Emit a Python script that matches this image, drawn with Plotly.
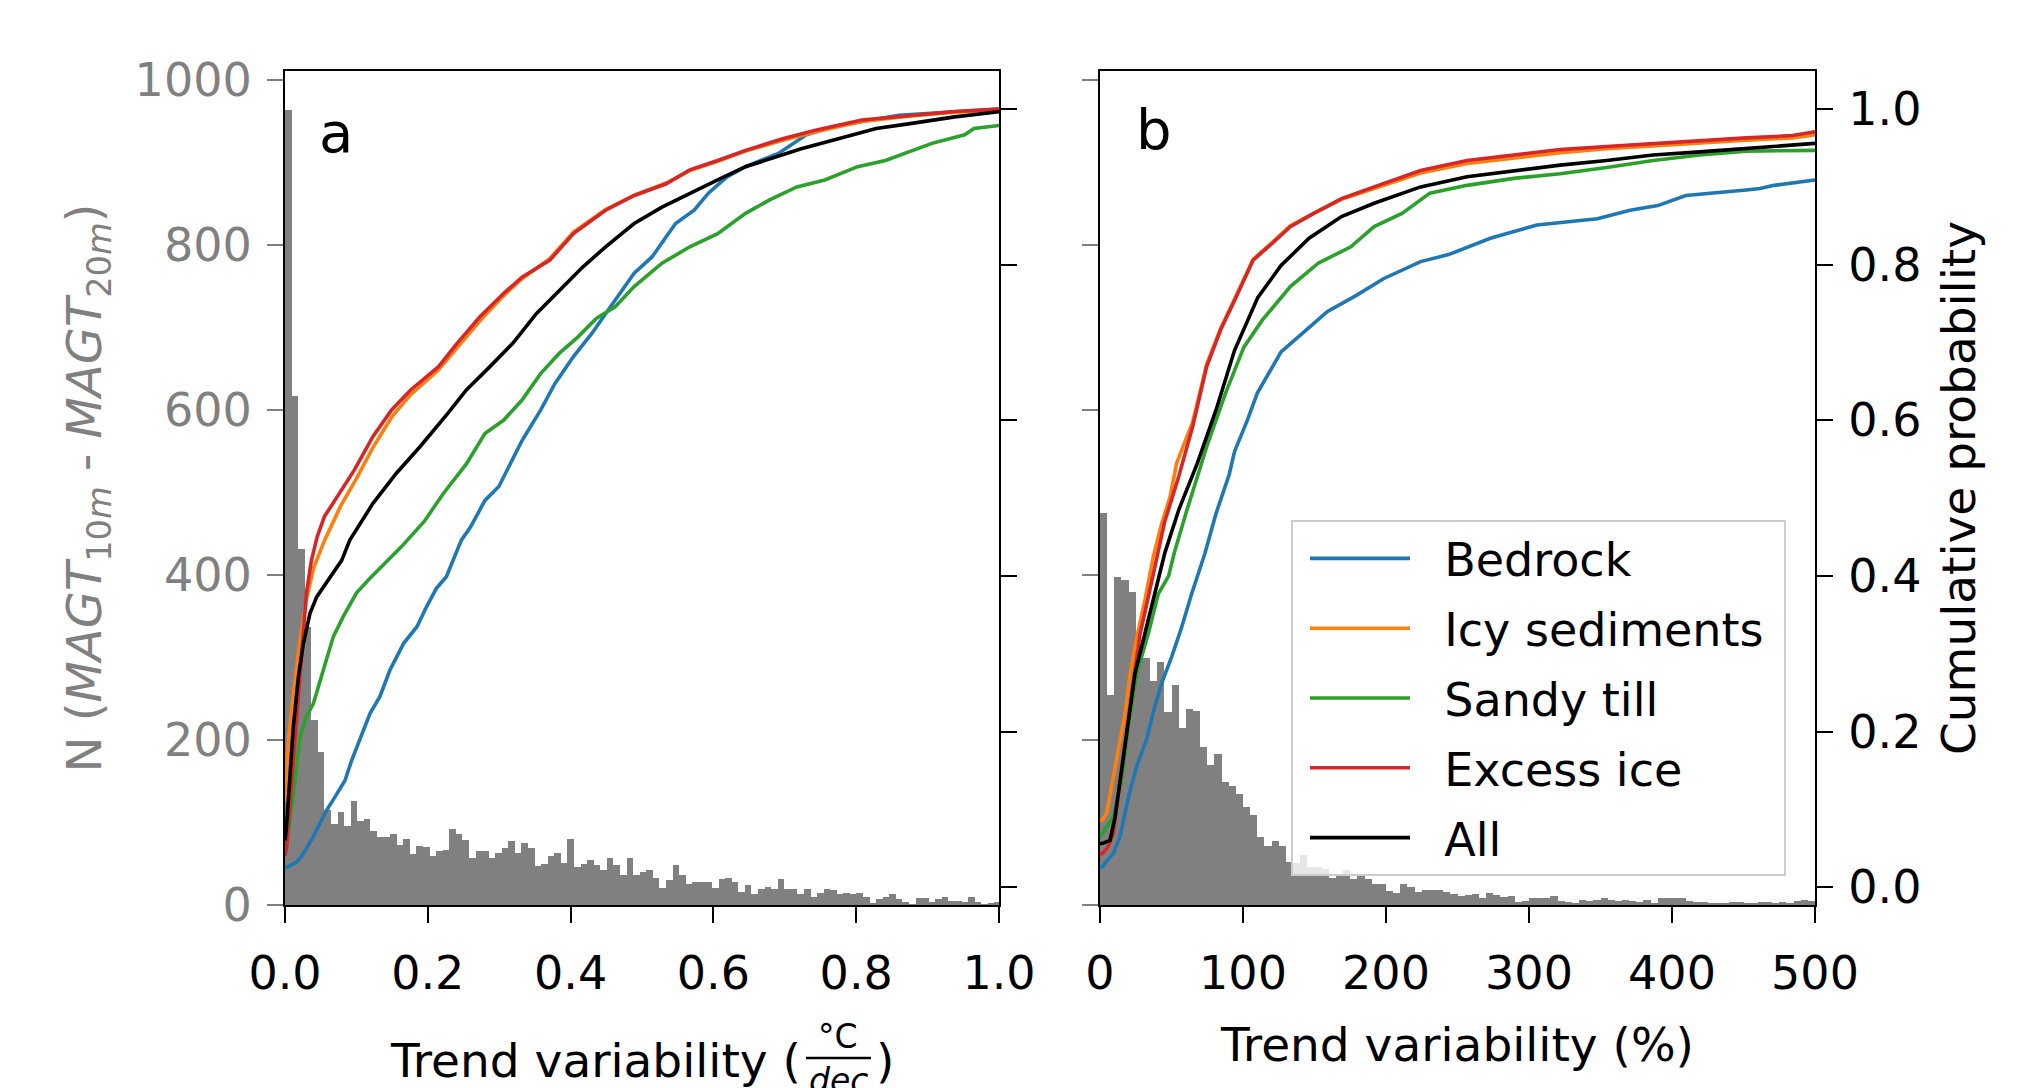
import numpy as np
import plotly.graph_objects as go

# ---------------- data ----------------
# Panel a histogram (counts per bin, bin width in degC/dec)
HIST_A_BIN_WIDTH = 0.0092
hist_a_counts = [964, 617, 432, 337, 224, 185, 115, 98, 113, 96, 126, 102, 104, 90, 82, 82, 86, 73,
                 80, 62, 71, 70, 59, 65, 67, 92, 86, 79, 57, 65, 66, 57, 63, 69, 78, 63, 75, 69, 47,
                 50, 60, 63, 51, 80, 46, 50, 55, 48, 42, 57, 48, 36, 57, 36, 40, 43, 33, 21, 30, 48,
                 36, 25, 28, 28, 28, 21, 32, 33, 28, 16, 24, 13, 20, 22, 19, 31, 19, 19, 13, 20, 10,
                 14, 19, 18, 13, 15, 13, 14, 10, 3, 7, 10, 13, 7, 4, 1, 8, 8, 4, 7, 10, 5, 5, 4, 10,
                 4, 1, 3, 4]

# Panel b histogram (counts per bin, bin width in %)
HIST_B_BIN_WIDTH = 5
hist_b_counts = [475, 254, 398, 394, 380, 305, 299, 272, 295, 234, 267, 214, 237, 235, 191, 170,
                 183, 149, 144, 134, 119, 109, 83, 71, 77, 71, 52, 51, 61, 46, 46, 44, 33, 38, 42,
                 31, 37, 31, 26, 26, 17, 14, 26, 22, 16, 18, 18, 18, 16, 13, 11, 12, 13, 9, 15, 12,
                 10, 11, 4, 5, 9, 9, 9, 11, 5, 4, 3, 6, 5, 6, 9, 6, 5, 6, 5, 4, 6, 3, 9, 9, 8, 8, 5,
                 4, 4, 3, 2, 3, 4, 4, 3, 2, 4, 4, 3, 4, 2, 5, 6, 5]

series_names = ["Bedrock", "Icy sediments", "Sandy till", "Excess ice", "All"]
series_colors = ["#1f77b4", "#ff7f0e", "#2ca02c", "#d62728", "#000000"]

# Panel a cumulative curves (x: trend variability degC/dec, y: cumulative probability)
a_bedrock_x = [0, 0.0014, 0.0163, 0.0257, 0.0327, 0.0397, 0.049, 0.0584, 0.070, 0.084, 0.0934, 0.103,
               0.119, 0.133, 0.147, 0.166, 0.185, 0.198, 0.212, 0.226, 0.247, 0.260, 0.280, 0.2995,
               0.319, 0.332, 0.358, 0.378, 0.404, 0.430, 0.449, 0.475, 0.489, 0.514, 0.547, 0.573,
               0.593, 0.619, 0.645, 0.691, 0.73, 0.775, 0.86, 0.938, 1.0]
a_bedrock_y = [0.025, 0.025, 0.032, 0.043, 0.054, 0.065, 0.082, 0.099, 0.116, 0.137, 0.163, 0.185,
               0.223, 0.245, 0.279, 0.313, 0.335, 0.360, 0.384, 0.399, 0.446, 0.463, 0.497, 0.515,
               0.549, 0.574, 0.613, 0.647, 0.682, 0.712, 0.737, 0.772, 0.789, 0.810, 0.853, 0.870,
               0.892, 0.913, 0.926, 0.943, 0.967, 0.979, 0.992, 0.9966, 1.0]

a_icy_x = [0, 0.005, 0.012, 0.02, 0.03, 0.04, 0.055, 0.078, 0.1, 0.123, 0.15, 0.176, 0.215, 0.241,
           0.273, 0.306, 0.332, 0.371, 0.404, 0.449, 0.489, 0.534, 0.567, 0.606, 0.645, 0.697, 0.743,
           0.808, 0.873, 0.938, 1.0]
a_icy_y = [0.11, 0.19, 0.25, 0.31, 0.37, 0.41, 0.445, 0.49, 0.525, 0.565, 0.605, 0.633, 0.665, 0.694,
           0.728, 0.76, 0.782, 0.808, 0.842, 0.871, 0.889, 0.905, 0.921, 0.933, 0.946, 0.960, 0.971,
           0.984, 0.991, 0.996, 0.999]

a_sandy_x = [0, 0.0033, 0.0117, 0.021, 0.030, 0.0397, 0.0537, 0.0677, 0.0817, 0.100, 0.117, 0.1625,
             0.195, 0.221, 0.254, 0.280, 0.306, 0.332, 0.358, 0.384, 0.410, 0.436, 0.4624, 0.489,
             0.528, 0.567, 0.606, 0.645, 0.678, 0.717, 0.756, 0.802, 0.841, 0.880, 0.906, 0.952,
             0.965, 1.0]
a_sandy_y = [0.045, 0.06, 0.12, 0.193, 0.219, 0.236, 0.279, 0.322, 0.348, 0.378, 0.395, 0.437, 0.47,
             0.505, 0.544, 0.583, 0.600, 0.626, 0.660, 0.686, 0.707, 0.731, 0.746, 0.772, 0.802,
             0.823, 0.840, 0.866, 0.883, 0.900, 0.909, 0.926, 0.934, 0.947, 0.956, 0.967, 0.975,
             0.979]

a_excess_x = [0, 0.0023, 0.0117, 0.021, 0.030, 0.037, 0.045, 0.055, 0.078, 0.097, 0.123, 0.149, 0.176,
              0.215, 0.241, 0.273, 0.306, 0.332, 0.371, 0.404, 0.449, 0.489, 0.534, 0.567, 0.606,
              0.645, 0.697, 0.743, 0.808, 0.873, 0.938, 1.0]
a_excess_y = [0.04, 0.052, 0.163, 0.279, 0.378, 0.42, 0.45, 0.476, 0.51, 0.536, 0.579, 0.613, 0.639,
              0.669, 0.699, 0.733, 0.763, 0.784, 0.806, 0.840, 0.870, 0.889, 0.904, 0.922, 0.934,
              0.947, 0.962, 0.973, 0.986, 0.992, 0.997, 1.0]

a_all_x = [0, 0.0023, 0.0117, 0.0187, 0.0257, 0.035, 0.0444, 0.0537, 0.0677, 0.0794, 0.0908, 0.123,
           0.156, 0.189, 0.228, 0.254, 0.287, 0.319, 0.352, 0.384, 0.417, 0.449, 0.489, 0.528, 0.567,
           0.606, 0.645, 0.684, 0.723, 0.775, 0.828, 0.873, 0.938, 1.0]
a_all_y = [0.06, 0.08, 0.206, 0.270, 0.313, 0.352, 0.373, 0.386, 0.405, 0.42, 0.446, 0.493, 0.532,
           0.566, 0.609, 0.639, 0.669, 0.699, 0.737, 0.767, 0.797, 0.823, 0.853, 0.874, 0.892, 0.909,
           0.926, 0.938, 0.949, 0.962, 0.975, 0.981, 0.990, 0.9966]

# Panel b cumulative curves (x: trend variability %, y: cumulative probability)
b_bedrock_x = [0, 1.6, 5.8, 9.3, 14, 19.8, 25.6, 32.6, 37.3, 43.1, 50.1, 57.1, 64.1, 73.4, 81.1, 90.3,
               94.1, 103, 110, 126.6, 142.9, 159.1, 178.7, 198.2, 224.2, 243.7, 273, 305.5, 347.8,
               370.6, 390.1, 409.6, 451.9, 461.6, 471.4, 500]
b_bedrock_y = [0.026, 0.026, 0.036, 0.043, 0.065, 0.115, 0.155, 0.19, 0.225, 0.262, 0.296, 0.334,
               0.377, 0.429, 0.48, 0.53, 0.56, 0.6, 0.635, 0.688, 0.714, 0.740, 0.760, 0.782, 0.804,
               0.813, 0.834, 0.851, 0.859, 0.870, 0.876, 0.889, 0.896, 0.898, 0.902, 0.909]

b_icy_x = [0, 1.6, 4.7, 8.2, 12.8, 17.5, 21, 25.7, 31.4, 37.3, 43.1, 48.9, 53.6, 64.8, 74.6, 84.3, 94.1,
           107.1, 120.1, 133.1, 149.4, 168.9, 191.7, 224.2, 256.7, 289.3, 321.8, 354.3, 386.8,
           419.4, 451.9, 484.4, 500]
b_icy_y = [0.086, 0.086, 0.095, 0.129, 0.175, 0.223, 0.274, 0.321, 0.369, 0.425, 0.467, 0.501, 0.545,
           0.598, 0.672, 0.718, 0.756, 0.807, 0.828, 0.850, 0.866, 0.884, 0.898, 0.918, 0.930,
           0.937, 0.944, 0.949, 0.953, 0.957, 0.960, 0.963, 0.967]

b_sandy_x = [0, 1.6, 9.3, 15.1, 19.8, 25.6, 33.8, 40.8, 48, 52, 60, 68.7, 74.6, 87.6, 100.6, 113.6,
             133.1, 152.6, 175.4, 191.7, 211.2, 230.7, 256.7, 289.3, 321.8, 354.3, 386.8, 419.4,
             451.9, 500]
b_sandy_y = [0.064, 0.069, 0.090, 0.137, 0.206, 0.274, 0.326, 0.377, 0.40, 0.43, 0.48, 0.53, 0.566,
             0.634, 0.694, 0.729, 0.772, 0.802, 0.823, 0.849, 0.866, 0.892, 0.902, 0.911, 0.917,
             0.925, 0.934, 0.941, 0.946, 0.947]

b_excess_x = [0, 1.6, 5.8, 9.3, 14, 18.6, 23.3, 28, 33.8, 40.8, 45.3, 55.1, 64.8, 74.6, 84.3, 94.1,
              107.1, 120.1, 133.1, 149.4, 168.9, 191.7, 224.2, 256.7, 289.3, 321.8, 354.3, 386.8,
              419.4, 451.9, 484.4, 500]
b_excess_y = [0.043, 0.043, 0.052, 0.069, 0.137, 0.197, 0.266, 0.325, 0.373, 0.435, 0.47, 0.528,
              0.592, 0.669, 0.716, 0.754, 0.806, 0.827, 0.849, 0.866, 0.885, 0.900, 0.921, 0.934,
              0.941, 0.948, 0.952, 0.956, 0.960, 0.963, 0.966, 0.971]

b_all_x = [0, 1.6, 7, 10.5, 15.1, 19.8, 24.4, 31.4, 38.4, 45.4, 55.1, 68.1, 81.1, 94.1, 110.4, 126.6,
           146.2, 168.9, 191.7, 224.2, 256.7, 289.3, 321.8, 354.3, 386.8, 419.4, 451.9, 500]
b_all_y = [0.056, 0.056, 0.060, 0.090, 0.150, 0.214, 0.274, 0.326, 0.377, 0.43, 0.485, 0.545, 0.613,
           0.69, 0.758, 0.799, 0.834, 0.862, 0.879, 0.900, 0.913, 0.921, 0.928, 0.934, 0.941,
           0.945, 0.949, 0.956]

x_a_ticks = [0.0, 0.2, 0.4, 0.6, 0.8, 1.0]
x_a_ticklabels = ["0.0", "0.2", "0.4", "0.6", "0.8", "1.0"]
x_b_ticks = [0, 100, 200, 300, 400, 500]
count_ticks = [0, 200, 400, 600, 800, 1000]
prob_ticks = [0.0, 0.2, 0.4, 0.6, 0.8, 1.0]
prob_ticklabels = ["0.0", "0.2", "0.4", "0.6", "0.8", "1.0"]

curves_a = [(a_bedrock_x, a_bedrock_y), (a_icy_x, a_icy_y), (a_sandy_x, a_sandy_y),
            (a_excess_x, a_excess_y), (a_all_x, a_all_y)]
curves_b = [(b_bedrock_x, b_bedrock_y), (b_icy_x, b_icy_y), (b_sandy_x, b_sandy_y),
            (b_excess_x, b_excess_y), (b_all_x, b_all_y)]

# ---------------- figure ----------------
WIN_W, WIN_H = 2029, 1088
OFF = 8  # default page body margin
W, H = WIN_W - OFF, WIN_H - OFF
# plot area in window pixels: x 285..1815, y 71..905
ML, MR, MT, MB = 285 - OFF, WIN_W - 1815, 71 - OFF, WIN_H - 905
PW, PH = W - ML - MR, H - MT - MB
FONT = "DejaVu Sans"
FS = 46
TFS = 47
GRAY = "#808080"


def px_x(p):
    return (p - OFF - ML) / PW


def px_y(p):
    return (H - MB - (p - OFF)) / PH


fig = go.Figure()

ca = np.asarray(hist_a_counts)
fig.add_trace(go.Bar(x=(np.arange(len(ca)) + 0.5) * HIST_A_BIN_WIDTH, y=ca, width=HIST_A_BIN_WIDTH,
                     marker=dict(color=GRAY, line=dict(width=0)), xaxis="x", yaxis="y",
                     showlegend=False, hoverinfo="skip"))
cb = np.asarray(hist_b_counts)
fig.add_trace(go.Bar(x=(np.arange(len(cb)) + 0.5) * HIST_B_BIN_WIDTH, y=cb, width=HIST_B_BIN_WIDTH,
                     marker=dict(color=GRAY, line=dict(width=0)), xaxis="x2", yaxis="y3",
                     showlegend=False, hoverinfo="skip"))

for i, (name, col) in enumerate(zip(series_names, series_colors)):
    xa, ya = curves_a[i]
    fig.add_trace(go.Scatter(x=xa, y=ya, mode="lines", line=dict(color=col, width=3.6),
                             xaxis="x", yaxis="y2", showlegend=False, name=name))
for i, (name, col) in enumerate(zip(series_names, series_colors)):
    xb, yb = curves_b[i]
    fig.add_trace(go.Scatter(x=xb, y=yb, mode="lines", line=dict(color=col, width=3.6),
                             xaxis="x2", yaxis="y4", showlegend=True,
                             name="\u00a0\u00a0" + name + "\u00a0", legendgroup=f"g{i}"))

dom_a = [0, px_x(999)]
dom_b = [px_x(1100), 1]
tick_common = dict(ticks="outside", ticklen=16, tickwidth=2, showgrid=False, zeroline=False,
                   showline=True, linecolor="black", linewidth=2.2)

fig.update_layout(
    width=W, height=H, autosize=False,
    margin=dict(l=ML, r=MR, t=MT, b=MB),
    paper_bgcolor="white", plot_bgcolor="white",
    font=dict(family=FONT, size=FS, color="black"),
    bargap=0, barmode="overlay",
    xaxis=dict(domain=dom_a, range=[0, 1], anchor="y", tickvals=x_a_ticks, ticktext=x_a_ticklabels,
               tickcolor="black", mirror=True, ticklabelstandoff=11, **tick_common),
    yaxis=dict(domain=[0, 1], range=[0, 1011], anchor="x", side="left", tickvals=count_ticks,
               tickcolor=GRAY, tickfont=dict(color=GRAY, size=FS), ticklabelstandoff=6,
               title=dict(text="N (<i>MAGT</i><sub>10<i>m</i></sub> - <i>MAGT</i><sub>20<i>m</i></sub>)",
                          font=dict(color=GRAY, size=48), standoff=18),
               **tick_common),
    yaxis2=dict(overlaying="y", anchor="x", side="right", range=[-0.023, 1.049], tickvals=prob_ticks,
                showticklabels=False, tickcolor="black", **tick_common),
    xaxis2=dict(domain=dom_b, range=[0, 500], anchor="y3", tickvals=x_b_ticks, tickcolor="black",
                mirror=True, ticklabelstandoff=11,
                title=dict(text="Trend variability (%)", font=dict(size=TFS), standoff=29),
                **tick_common),
    yaxis3=dict(domain=[0, 1], range=[0, 1011], anchor="x2", side="left", tickvals=count_ticks,
                tickcolor=GRAY, showticklabels=False, **tick_common),
    yaxis4=dict(overlaying="y3", anchor="x2", side="right", range=[-0.023, 1.049], tickvals=prob_ticks,
                ticktext=prob_ticklabels, tickcolor="black", ticklabelstandoff=6,
                title=dict(text="Cumulative probability", font=dict(size=TFS), standoff=22),
                **tick_common),
    legend=dict(x=px_x(1291), y=px_y(520), xanchor="left", yanchor="top",
                bgcolor="rgba(255,255,255,0.8)", bordercolor="#cccccc", borderwidth=2,
                font=dict(size=FS), itemwidth=100, traceorder="grouped", tracegroupgap=7,
                indentation=12),
)

# panel letters
fig.add_annotation(text="a", xref="paper", yref="paper", x=px_x(336), y=px_y(133),
                   showarrow=False, font=dict(size=56), xanchor="center", yanchor="middle")
fig.add_annotation(text="b", xref="paper", yref="paper", x=px_x(1154), y=px_y(129),
                   showarrow=False, font=dict(size=56), xanchor="center", yanchor="middle")

# x-axis title for panel a with stacked fraction
fig.add_annotation(text="Trend variability (", xref="paper", yref="paper", x=px_x(803), y=px_y(1060),
                   showarrow=False, xanchor="right", yanchor="middle", font=dict(size=TFS))
fig.add_annotation(text="°C", xref="paper", yref="paper", x=px_x(838), y=px_y(1036),
                   showarrow=False, xanchor="center", yanchor="middle", font=dict(size=33))
fig.add_annotation(text="<i>dec</i>", xref="paper", yref="paper", x=px_x(838), y=px_y(1080),
                   showarrow=False, xanchor="center", yanchor="middle", font=dict(size=33))
fig.add_annotation(text=")", xref="paper", yref="paper", x=px_x(874), y=px_y(1060),
                   showarrow=False, xanchor="left", yanchor="middle", font=dict(size=TFS))
fig.add_shape(type="line", xref="paper", yref="paper", x0=px_x(806), x1=px_x(871),
              y0=px_y(1058), y1=px_y(1058), line=dict(color="black", width=2.5))

fig.write_html("out.html")
